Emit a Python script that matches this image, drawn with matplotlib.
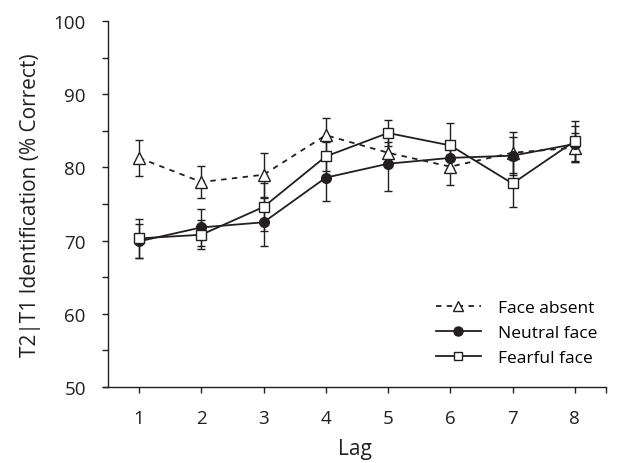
import numpy as np
import matplotlib
matplotlib.use('Agg')
import matplotlib.pyplot as plt
from matplotlib.lines import Line2D

plt.rcParams['font.family'] = ['Open Sans', 'DejaVu Sans']

lags = [1, 2, 3, 4, 5, 6, 7, 8]

absent_mean = [81.3, 78.0, 79.0, 84.4, 82.0, 80.1, 82.0, 82.7]
absent_se = [2.5, 2.2, 3.0, 2.4, 1.5, 2.5, 2.8, 2.0]

neutral_mean = [69.9, 71.8, 72.5, 78.6, 80.5, 81.3, 81.6, 83.2]
neutral_se = [2.3, 2.5, 3.3, 3.2, 3.7, 1.5, 2.6, 2.4]

fearful_mean = [70.3, 70.8, 74.6, 81.5, 84.7, 83.0, 77.8, 83.6]
fearful_se = [2.7, 2.0, 3.3, 2.0, 1.8, 3.1, 3.2, 2.7]

ink = '#231f20'

fig = plt.figure(figsize=(6.27, 4.64), dpi=100)
ax = fig.add_axes([0.1643, 0.1638, 0.802, 0.7888])

style = dict(color=ink, lw=1.3, capsize=3, elinewidth=1.0, capthick=1.0)
ax.errorbar(lags, absent_mean, yerr=absent_se, ls='--', marker='^', ms=8.5,
            mfc='white', mec=ink, mew=1.0, dashes=(3, 3), **style)
ax.errorbar(lags, neutral_mean, yerr=neutral_se, ls='-', marker='o', ms=7,
            mfc=ink, mec=ink, **style)
ax.errorbar(lags, fearful_mean, yerr=fearful_se, ls='-', marker='s', ms=7,
            mfc='white', mec=ink, mew=1.0, **style)

ax.set_xlim(0.42, 8.5)
ax.set_ylim(50, 100)
ax.spines['left'].set_position(('data', 0.5))
ax.spines['top'].set_visible(False)
ax.spines['right'].set_visible(False)
for s in ['left', 'bottom']:
    ax.spines[s].set_linewidth(1.0)
    ax.spines[s].set_color(ink)

ax.set_xticks(lags + [8.5])
ax.set_xticklabels([str(l) for l in lags] + [''])
ax.set_yticks(np.arange(50, 101, 5))
ax.set_yticklabels([str(v) if v % 10 == 0 else '' for v in range(50, 101, 5)])
ax.tick_params(axis='x', direction='out', length=4, width=1.0, pad=12, labelsize=13.5, colors=ink)
ax.tick_params(axis='y', direction='out', length=4, width=1.0, pad=12, labelsize=13.5, colors=ink)

ax.set_xlabel('Lag', fontsize=15, color=ink, labelpad=8)
ax.set_ylabel('T2|T1 Identification (% Correct)', fontsize=15, color=ink, labelpad=9)

# legend handles without the error bars
handles = [
    Line2D([], [], color=ink, lw=1.3, ls='--', dashes=(3, 3), marker='^', ms=7.5, mfc='white', mec=ink),
    Line2D([], [], color=ink, lw=1.3, marker='o', ms=6.5, mfc=ink, mec=ink),
    Line2D([], [], color=ink, lw=1.3, marker='s', ms=6, mfc='white', mec=ink),
]
labels = ['Face absent', 'Neutral face', 'Fearful face']
ax.legend(handles, labels, loc='lower right', bbox_to_anchor=(1.015, 0.015), frameon=False,
          fontsize=12.5, handlelength=2.6, labelspacing=0.5, handletextpad=1.0)

fig.savefig('out.png', dpi=100)
